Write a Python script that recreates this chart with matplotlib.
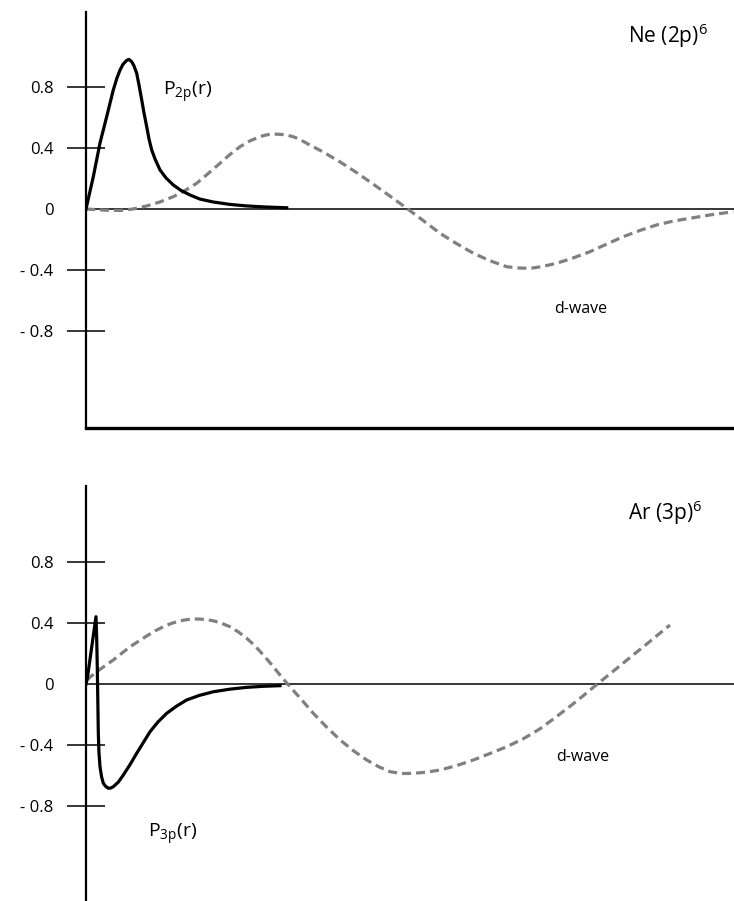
import numpy as np
import matplotlib
matplotlib.use("Agg")
import matplotlib.pyplot as plt

plt.rcParams['font.family'] = ['Open Sans', 'DejaVu Sans']
plt.rcParams['mathtext.fontset'] = 'custom'
plt.rcParams['mathtext.rm'] = 'Open Sans'
plt.rcParams['mathtext.it'] = 'Open Sans'
plt.rcParams['mathtext.default'] = 'regular'
plt.rcParams['lines.scale_dashes'] = False

# --- Ne (2p)^6 panel ---
ne_p_r = [0.0, 0.113, 0.216, 0.319, 0.421, 0.478, 0.525, 0.571, 0.628, 0.664,
          0.705, 0.741, 0.782, 0.818, 0.860, 0.895, 0.937, 0.972, 1.014, 1.065,
          1.142, 1.235, 1.347, 1.466, 1.605, 1.759, 1.964, 2.222, 2.480, 2.778, 3.097]
ne_p_val = [0.0, 0.213, 0.434, 0.607, 0.783, 0.862, 0.914, 0.952, 0.978, 0.984,
            0.969, 0.941, 0.893, 0.816, 0.717, 0.632, 0.541, 0.461, 0.388, 0.329,
            0.257, 0.204, 0.158, 0.122, 0.092, 0.065, 0.046, 0.030, 0.020, 0.013, 0.008]

ne_d_r = [0.0, 0.30, 0.525, 0.73, 0.937, 1.14, 1.347, 1.53, 1.708, 1.89,
          2.068, 2.22, 2.377, 2.53, 2.685, 2.79, 2.890, 3.0, 3.1, 3.199,
          3.3, 3.406, 3.66, 3.920, 4.18, 4.434, 4.69, 4.949, 5.21, 5.463,
          5.72, 5.977, 6.23, 6.492, 6.67, 6.852, 7.05, 7.264, 7.52, 7.778,
          8.03, 8.292, 8.55, 8.807, 9.06, 9.321, 9.65, 9.989]
ne_d_val = [0.0, -0.008, -0.010, 0.0, 0.020, 0.046, 0.081, 0.122, 0.169, 0.235,
            0.301, 0.358, 0.410, 0.448, 0.476, 0.488, 0.493, 0.491, 0.486, 0.475,
            0.458, 0.432, 0.375, 0.310, 0.238, 0.163, 0.085, 0.005, -0.078, -0.160,
            -0.228, -0.291, -0.340, -0.380, -0.388, -0.391, -0.378, -0.357, -0.322, -0.281,
            -0.232, -0.182, -0.141, -0.105, -0.080, -0.061, -0.038, -0.018]

# --- Ar (3p)^6 panel ---
ar_p_r = [0.0, 0.02, 0.154, 0.165, 0.174, 0.190, 0.20, 0.216, 0.24, 0.267,
          0.30, 0.344, 0.38, 0.421, 0.50, 0.576, 0.68, 0.782, 0.885, 0.988,
          1.11, 1.245, 1.40, 1.554, 1.75, 1.965, 2.22, 2.480, 2.74, 2.994]
ar_p_val = [0.0, 0.036, 0.443, 0.30, 0.114, -0.322, -0.45, -0.544, -0.610, -0.653,
            -0.672, -0.686, -0.685, -0.676, -0.645, -0.599, -0.530, -0.456, -0.385, -0.314,
            -0.250, -0.193, -0.145, -0.105, -0.075, -0.051, -0.034, -0.022, -0.015, -0.011]

ar_d_r = [0.01, 0.165, 0.421, 0.679, 0.937, 1.065, 1.193, 1.32, 1.451, 1.58,
          1.708, 1.84, 1.965, 2.09, 2.222, 2.35, 2.480, 2.61, 2.736, 2.865,
          2.994, 3.148, 3.33, 3.508, 3.71, 3.920, 4.13, 4.332, 4.51, 4.691,
          4.87, 5.051, 5.26, 5.463, 5.72, 5.977, 6.23, 6.492, 6.75, 7.006,
          7.26, 7.520, 7.68, 7.829, 8.06, 8.292, 8.47, 8.653, 8.83, 9.012]
ar_d_val = [0.026, 0.081, 0.158, 0.245, 0.316, 0.349, 0.377, 0.399, 0.416, 0.425,
            0.428, 0.425, 0.416, 0.400, 0.377, 0.343, 0.301, 0.250, 0.191, 0.127,
            0.059, -0.018, -0.105, -0.193, -0.282, -0.368, -0.440, -0.500, -0.543, -0.577,
            -0.589, -0.588, -0.580, -0.566, -0.537, -0.500, -0.458, -0.413, -0.360, -0.295,
            -0.215, -0.130, -0.075, -0.022, 0.058, 0.138, 0.200, 0.263, 0.325, 0.388]

ytick_vals = [0.8, 0.4, 0, -0.4, -0.8]
ytick_labels = ['0.8', '0.4', '0', '- 0.4', '- 0.8']

W, H = 734, 901
fig = plt.figure(figsize=(W / 100, H / 100), dpi=100)

ax1 = fig.add_axes([86 / W, (H - 428) / H, 648 / W, 416 / H])
ax2 = fig.add_axes([86 / W, 0, 648 / W, 415 / H])

grey = '#808080'


def setup(ax, ylim, bottom_axis):
    ax.set_xlim(0, 10)
    ax.set_ylim(*ylim)
    ax.spines['top'].set_visible(False)
    ax.spines['right'].set_visible(False)
    ax.spines['left'].set_linewidth(1.6)
    if bottom_axis:
        ax.spines['bottom'].set_linewidth(2.4)
    else:
        ax.spines['bottom'].set_visible(False)
    ax.set_xticks([])
    ax.set_yticks(ytick_vals)
    ax.set_yticklabels(ytick_labels)
    ax.tick_params(axis='y', direction='inout', length=27, width=1.1,
                   pad=10, labelsize=12, colors='black')
    for t, v in zip(ax.yaxis.get_major_ticks(), ytick_vals):
        if v == 0:
            t.tick1line.set_visible(False)
    ax.axhline(0, color='black', lw=1.1, zorder=1)


setup(ax1, (-1.441, 1.296), True)
setup(ax2, (-1.428, 1.303), False)

ax1.plot(ne_d_r, ne_d_val, color=grey, lw=2.3, dashes=(6.5, 3.6), clip_on=False, zorder=2)
ax1.plot(ne_p_r, ne_p_val, color='black', lw=2.3, solid_joinstyle='round', zorder=3)

ax2.plot(ar_d_r, ar_d_val, color=grey, lw=2.3, dashes=(6.5, 3.6), zorder=2)
ax2.plot(ar_p_r, ar_p_val, color='black', lw=2.3, solid_joinstyle='round', zorder=3)

ax1.text(8.98, 1.14, 'Ne (2p)$^6$', fontsize=15, ha='center', va='center')
ax1.text(1.57, 0.77, 'P$_{2p}$(r)', fontsize=14, ha='center', va='center')
ax1.text(7.64, -0.658, 'd-wave', fontsize=11.5, ha='center', va='center')

ax2.text(8.93, 1.13, 'Ar (3p)$^6$', fontsize=15, ha='center', va='center')
ax2.text(1.34, -0.993, 'P$_{3p}$(r)', fontsize=14, ha='center', va='center')
ax2.text(7.67, -0.48, 'd-wave', fontsize=11.5, ha='center', va='center')

fig.savefig('out.png', dpi=100)
